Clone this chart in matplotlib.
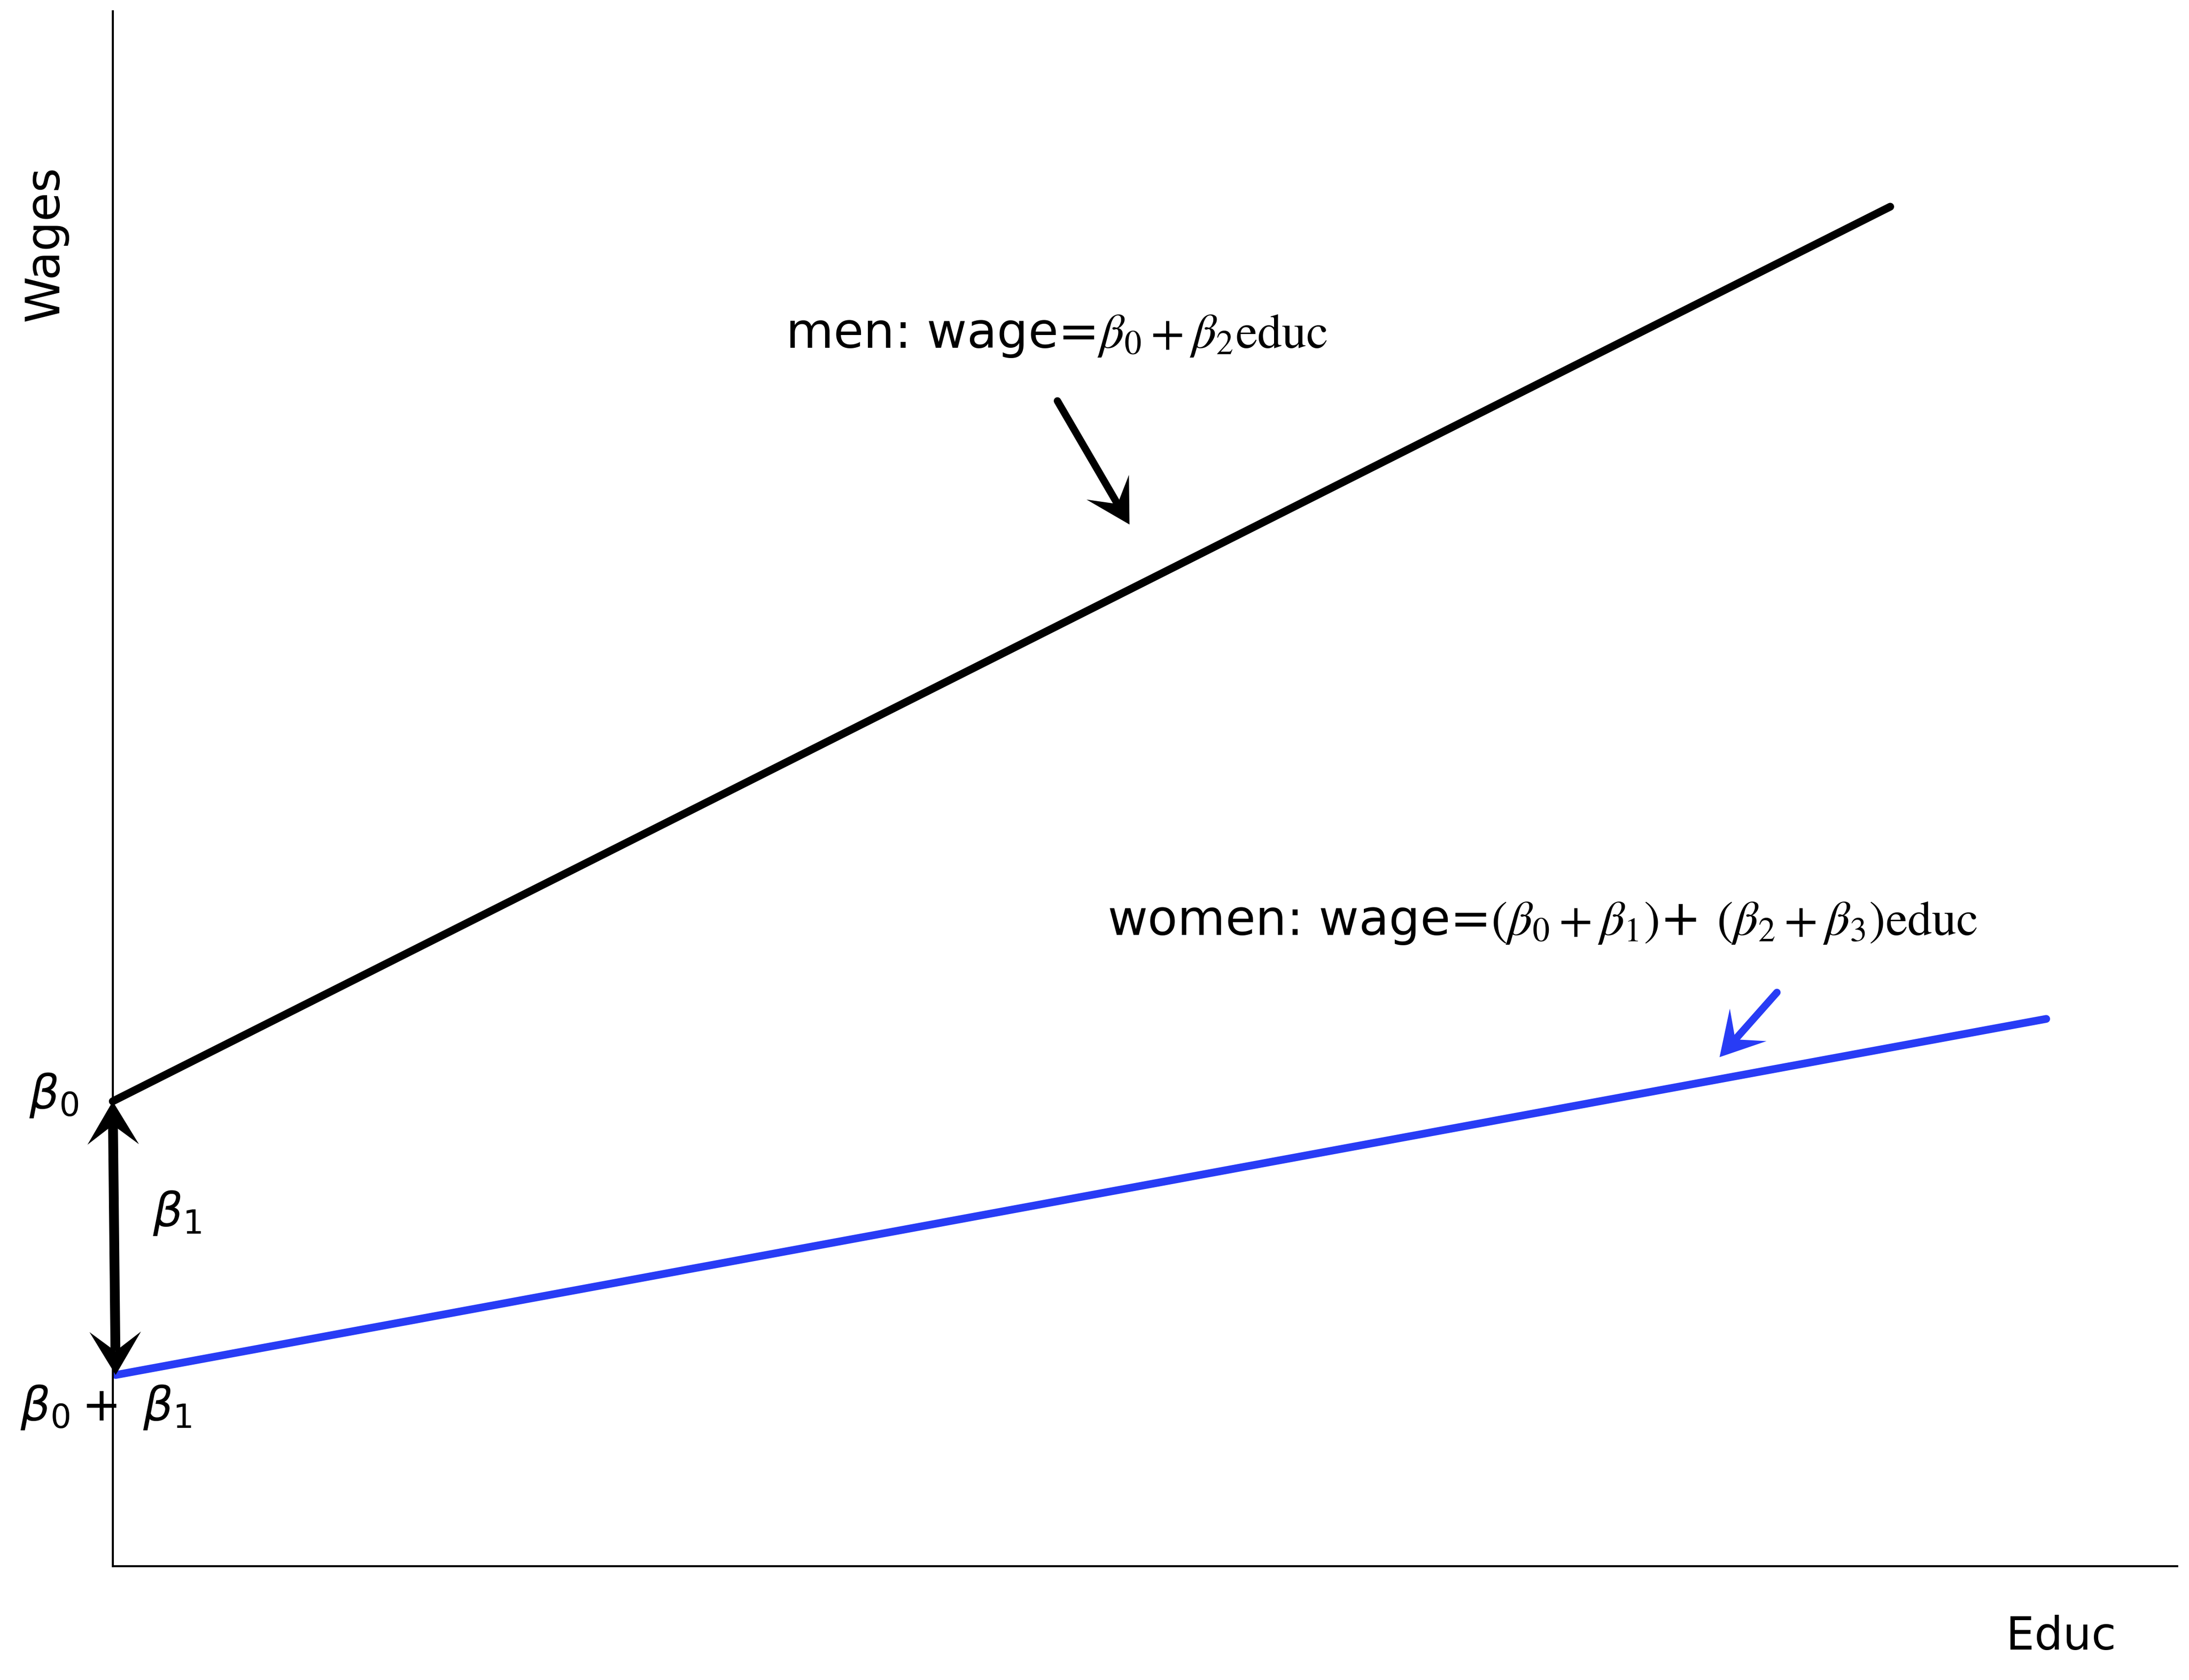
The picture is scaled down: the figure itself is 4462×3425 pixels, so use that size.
import matplotlib
matplotlib.use("Agg")
import matplotlib.pyplot as plt
import numpy as np
from matplotlib.patches import Polygon
from matplotlib.transforms import Affine2D, IdentityTransform

# line end points (educ, wage) in plot units
men_educ = [0.0, 12.08]
men_wage = [3.16, 9.24]
women_educ = [0.02, 13.14]
women_wage = [1.30, 3.72]

# annotation arrows: (start, tip)
men_arrow = [(6.42, 7.92), (6.91, 7.08)]
women_arrow = [(11.31, 3.90), (10.92, 3.46)]

men_label = r'men: wage=$\beta_0 + \beta_2\mathrm{educ}$'
women_label = r'women: wage=$(\beta_0 + \beta_1)$+ $(\beta_2 + \beta_3)\mathrm{educ}$'

blue = '#283cf5'

plt.rcParams['font.family'] = ['DejaVu Sans']
plt.rcParams['mathtext.fontset'] = 'stix'

fig = plt.figure(figsize=(4462 / 300, 3425 / 300), dpi=300)
ax = fig.add_axes([0.0515, 0.0677, 0.9431, 0.9255])
ax.set_xlim(0, 14.03)
ax.set_ylim(0, 10.567)
for s in ['top', 'right']:
    ax.spines[s].set_visible(False)
for s in ['left', 'bottom']:
    ax.spines[s].set_linewidth(1.0)
ax.set_xticks([])
ax.set_yticks([])


def stealth_head(tip, frm, color, length=88, width=100, notch=0.55):
    # swept arrow head, sized in pixels; returns the data point where the shaft should stop
    p0 = ax.transData.transform(frm)
    p1 = ax.transData.transform(tip)
    ang = np.arctan2(p1[1] - p0[1], p1[0] - p0[0])
    shape = np.array([[0, 0], [-length, width / 2], [-notch * length, 0], [-length, -width / 2]])
    verts = Affine2D().rotate(ang).translate(*p1).transform(shape)
    ax.add_patch(Polygon(verts, closed=True, transform=IdentityTransform(),
                         facecolor=color, edgecolor='none', clip_on=False, zorder=3))
    return ax.transData.inverted().transform(verts[2])


def arrow(start, tip, color, lw):
    end = stealth_head(tip, start, color)
    ax.plot([start[0], end[0]], [start[1], end[1]], color=color, lw=lw,
            solid_capstyle='round', clip_on=False, zorder=3)


ax.plot(men_educ, men_wage, color='black', lw=3.8, solid_capstyle='round', clip_on=False)
ax.plot(women_educ, women_wage, color=blue, lw=3.8, solid_capstyle='round', clip_on=False)

# intercept gap: double headed arrow between the two intercepts
top = (men_educ[0], men_wage[0])
bot = (women_educ[0], women_wage[0])
a = stealth_head(top, bot, 'black', width=105)
b = stealth_head(bot, top, 'black', width=105)
ax.plot([a[0], b[0]], [a[1], b[1]], color='black', lw=4.8, solid_capstyle='butt',
        clip_on=False, zorder=3)

arrow(men_arrow[0], men_arrow[1], 'black', 3.6)
arrow(women_arrow[0], women_arrow[1], blue, 3.6)

ax.text(4.57, 8.28, men_label, fontsize=24, ha='left', va='baseline')
ax.text(6.76, 4.29, women_label, fontsize=24, ha='left', va='baseline')

ax.text(-0.57, 3.2, r'$\beta_0$', fontsize=23, math_fontfamily='dejavusans',
        ha='left', va='center', clip_on=False)
ax.text(0.27, 2.4, r'$\beta_1$', fontsize=23, math_fontfamily='dejavusans',
        ha='left', va='center')
ax.text(-0.63, 1.08, r'$\beta_0 +\;\beta_1$', fontsize=23, math_fontfamily='dejavusans',
        ha='left', va='center', clip_on=False)

ax.text(-0.46, 8.99, 'Wages', fontsize=23, rotation=90, ha='center', va='center', clip_on=False)
ax.text(13.24, -0.48, 'Educ', fontsize=22, ha='center', va='center', clip_on=False)

fig.savefig('out.png', dpi=300, facecolor='white')
